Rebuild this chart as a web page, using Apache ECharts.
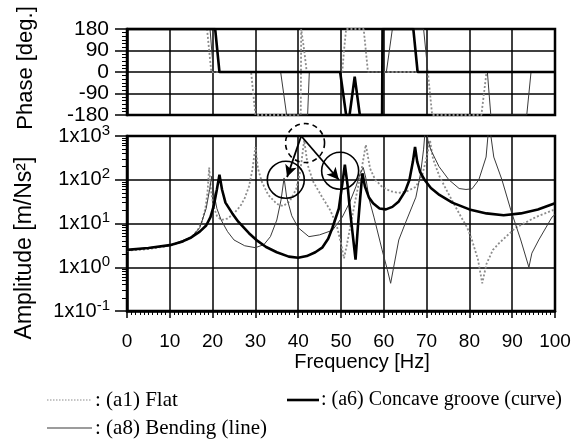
<!DOCTYPE html>
<html>
<head>
<meta charset="utf-8">
<title>Frequency response</title>
<style>
  html, body { margin: 0; padding: 0; background: #fff; }
  #chart1 { width: 580px; height: 441px; }
</style>
</head>
<body>
<div id="chart1"></div>
<script src="https://cdn.jsdelivr.net/npm/echarts@6/dist/echarts.min.js"></script>
<script>
// frequency axis
var freqTicks = [0, 10, 20, 30, 40, 50, 60, 70, 80, 90, 100];
var phaseTicks = [-180, -90, 0, 90, 180];
var ampRange = [0.1, 1000];

// phase [deg] : [Hz, deg]
var phaseA1 = [[0,180],[18.7,180],[19.2,90],[19.7,0],[29,0],[29.5,-90],[30,-180],[40.6,-180],[40.7,180],[41.4,90],[42,0],
  [50.3,0],[50.7,90],[51.2,180],[55.3,180],[55.8,90],[56.3,0],[70.3,0],[70.8,-90],[71.3,-180],[82.8,-180],[83.4,-90],[84,0],[100,0]];
var phaseA6 = [[0,180],[20.6,180],[21.1,90],[21.6,0],[49.8,0],[50.5,-90],[51.2,-180],[52,-180],[53.2,-20],[54.4,-180],
  [59.6,-180],[59.7,180],[66.9,180],[67.4,90],[67.9,0],[100,0]];
var phaseA8 = [[0,180],[19.4,180],[19.8,90],[20.2,0],[35.9,0],[36.6,-90],[37.3,-180],[42.2,-180],[42.6,0],[60.6,0],[61.3,90],[62,180],
  [69.3,180],[69.8,90],[70.3,0],[84.2,0],[84.6,-90],[85,-180],[93.4,-180],[93.9,-90],[94.4,0],[100,0]];

// amplitude [m/Ns2] : [Hz, value]
var ampA1 = [[0,2.4],[5,2.6],[10,3.1],[13,3.8],[15,4.8],[16.5,7],[17.5,11],[18.3,22],[18.8,50],[19.2,190],[19.6,60],[20.2,25],
  [21,15],[22,12],[23.5,13],[25,17],[26.5,25],[27.5,38],[28.5,70],[29.3,170],[30,560],[30.6,180],[31.5,90],[33,45],[35,28],
  [36.5,25],[38,32],[39.5,60],[40.5,160],[41.4,800],[42.2,220],[43.5,90],[45.6,40],[47.5,20],[49,9],[50,3.5],[50.7,1.6],
  [51.3,3],[52.3,10],[53.5,40],[54.7,150],[55.8,630],[56.8,180],[58,100],[59.6,69],[61.5,55],[63.5,50],[65.5,55],[67.5,69],
  [69,130],[70.1,350],[70.8,800],[71.5,300],[73,120],[75,50],[77.6,17],[79.5,8],[80.6,4.2],[82,1.5],[83,0.43],[84,1.2],
  [85.5,2.5],[87,3.6],[90.8,8],[95.5,14],[100,21]];
var ampA6 = [[0,2.5],[5,2.75],[10,3.2],[13,3.9],[15,4.8],[17,6.5],[18.5,9],[19.5,14],[20.3,26],[21,60],[21.6,130],[22.2,60],
  [23,30],[24.6,17],[26,11],[28.5,6],[30.5,4],[32.5,2.9],[35,2.2],[37.8,1.75],[40,1.65],[42,1.8],[44,2.2],[45.6,2.8],[47,4.5],
  [48,8],[49.5,22],[50.3,80],[50.9,220],[51.5,80],[52,25],[52.7,6],[53.4,1.5],[54,10],[54.5,40],[55,140],[55.6,70],[56.5,40],
  [57.5,29],[59,22],[60.5,21],[62,24],[63.5,32],[65,55],[66,100],[66.8,260],[67.3,560],[67.8,260],[68.5,150],[69.5,100],
  [71,65],[73,45],[76,30],[80,21],[84,17],[88,15.5],[92,17],[96,21],[100,29]];
var ampA8 = [[0,2.5],[10,3.15],[15,4.9],[17,8],[18.5,22],[19.3,60],[19.8,120],[20.3,50],[21,22],[22,12],[23.5,6.5],[25,4.2],
  [27.5,3.1],[30,2.8],[32,3.3],[33.5,5],[35,12],[36,35],[36.7,110],[37.3,40],[38.5,15],[40,8],[42.5,5],[45,5.5],[48,7],
  [50.3,14],[52,30],[53.5,70],[54.5,140],[55.2,190],[55.8,110],[56.6,35],[57.7,14],[59.6,2.5],[60.8,0.9],[61.6,0.43],
  [62.3,1.0],[63.5,4.2],[65,10],[67.5,40],[68.6,140],[69.3,500],[69.8,2000],[70.3,800],[71,480],[72.9,200],[75.2,100],
  [77.6,63],[79.2,60],[80.6,62],[82.2,100],[83.9,330],[84.6,2000],[85.7,330],[87.6,100],[89.7,20],[92,4.2],[93.9,1.0],
  [94.6,2.1],[96.2,4.2],[99.3,14],[100,16]];

// circles and arrows marking the shifted modes
var circleSolid = [[37.1, 100], [49.8, 160]];
var circleDashed = [[41.6, 690]];
var arrowFrom = [40.7, 1000];
var arrowTo = [[37.4, 115], [49.5, 100]];

var names = ['(a1) Flat', '(a6) Concave groove (curve)', '(a8) Bending (line)'];

var black = '#000';
var sans = 'Liberation Sans, Arial, sans-serif';
var serif = 'Liberation Serif, Times New Roman, serif';

var styA1 = { color: '#8c8c8c', width: 1.8, type: [2, 2] };
var styA6 = { color: '#000', width: 2.6 };
var styA8 = { color: '#3a3a3a', width: 1 };

var myChart = echarts.init(document.getElementById('chart1'));

var splitSty = { show: true, lineStyle: { color: black, width: 1.5 } };

var marks = [];
circleSolid.forEach(function (c) {
  marks.push({ coord: c, symbol: 'circle', symbolSize: 37,
    itemStyle: { color: 'rgba(0,0,0,0)', borderColor: black, borderWidth: 1.6 } });
});
circleDashed.forEach(function (c) {
  marks.push({ coord: c, symbol: 'circle', symbolSize: 39,
    itemStyle: { color: 'rgba(0,0,0,0)', borderColor: black, borderWidth: 1.6, borderType: [5, 4] } });
});
var arrows = arrowTo.map(function (t) {
  return [{ coord: arrowFrom }, { coord: t }];
});

var option = {
  animation: false,
  backgroundColor: '#fff',
  grid: [
    { left: 127, top: 29, width: 428, height: 86, show: true, borderColor: black, borderWidth: 2.5, backgroundColor: 'transparent' },
    { left: 127, top: 136, width: 428, height: 175, show: true, borderColor: black, borderWidth: 2.5, backgroundColor: 'transparent' }
  ],
  xAxis: [
    { type: 'value', gridIndex: 0, min: freqTicks[0], max: freqTicks[freqTicks.length - 1], interval: 10,
      axisLine: { show: false }, axisTick: { show: false }, axisLabel: { show: false }, splitLine: splitSty },
    { type: 'value', gridIndex: 1, min: freqTicks[0], max: freqTicks[freqTicks.length - 1], interval: 10,
      axisLine: { show: true, lineStyle: { color: black, width: 2.5 } },
      axisTick: { show: true, length: 7, lineStyle: { color: black, width: 1.5 } },
      minorTick: { show: true, splitNumber: 10, length: 4, lineStyle: { color: black, width: 1 } },
      axisLabel: { color: black, fontFamily: sans, fontSize: 19, margin: 21 },
      splitLine: splitSty }
  ],
  yAxis: [
    { type: 'value', gridIndex: 0, min: phaseTicks[0], max: phaseTicks[phaseTicks.length - 1], interval: 90,
      axisLine: { show: true, lineStyle: { color: black, width: 2.5 } },
      axisTick: { show: true, length: 12, lineStyle: { color: black, width: 1.5 } },
      minorTick: { show: true, splitNumber: 6, length: 5, lineStyle: { color: black, width: 1 } },
      axisLabel: { color: black, fontFamily: sans, fontSize: 21, margin: 18 },
      splitLine: splitSty },
    { type: 'log', logBase: 10, gridIndex: 1, min: ampRange[0], max: ampRange[1],
      axisLine: { show: true, lineStyle: { color: black, width: 2.5 } },
      axisTick: { show: true, length: 12, lineStyle: { color: black, width: 1.5 } },
      minorTick: { show: true, splitNumber: 9, length: 5, lineStyle: { color: black, width: 1 } },
      axisLabel: {
        color: black, fontFamily: sans, fontSize: 20, margin: 17, lineHeight: 26,
        formatter: function (v) { return '1x10{sup|' + Math.round(Math.log10(v)) + '}'; },
        rich: { sup: { fontFamily: sans, fontSize: 15, color: black, verticalAlign: 'top', lineHeight: 15 } }
      },
      splitLine: splitSty }
  ],
  series: [
    { name: names[0], type: 'line', xAxisIndex: 0, yAxisIndex: 0, data: phaseA1, symbol: 'none', lineStyle: styA1 },
    { name: names[2], type: 'line', xAxisIndex: 0, yAxisIndex: 0, data: phaseA8, symbol: 'none', lineStyle: styA8 },
    { name: names[1], type: 'line', xAxisIndex: 0, yAxisIndex: 0, data: phaseA6, symbol: 'none', lineStyle: styA6 },
    { name: names[0], type: 'line', xAxisIndex: 1, yAxisIndex: 1, data: ampA1, symbol: 'none', lineStyle: styA1 },
    { name: names[2], type: 'line', xAxisIndex: 1, yAxisIndex: 1, data: ampA8, symbol: 'none', lineStyle: styA8 },
    { name: names[1], type: 'line', xAxisIndex: 1, yAxisIndex: 1, data: ampA6, symbol: 'none', lineStyle: styA6,
      markPoint: { silent: true, label: { show: false }, data: marks },
      markLine: { silent: true, symbol: ['none', 'arrow'], symbolSize: [9, 12], label: { show: false },
        lineStyle: { color: black, width: 1.8, type: 'solid' }, data: arrows } }
  ],
  graphic: [
    { type: 'text', x: 26, y: 68, rotation: Math.PI / 2,
      style: { text: 'Phase [deg.]', font: '22px ' + sans, fill: black, align: 'center', verticalAlign: 'middle' } },
    { type: 'text', x: 25, y: 248, rotation: Math.PI / 2,
      style: { text: 'Amplitude [m/Ns²]', font: '23px ' + sans, fill: black, align: 'center', verticalAlign: 'middle' } },
    { type: 'text', x: 362, y: 362,
      style: { text: 'Frequency [Hz]', font: '20px ' + sans, fill: black, align: 'center', verticalAlign: 'middle' } },
    { type: 'line', shape: { x1: 47, y1: 400, x2: 92, y2: 400 }, style: { stroke: '#8c8c8c', lineWidth: 1.2, lineDash: [1.5, 1.5] } },
    { type: 'text', x: 95, y: 400, style: { text: ': ' + names[0], font: '21px ' + serif, fill: black, verticalAlign: 'middle' } },
    { type: 'line', shape: { x1: 287, y1: 400, x2: 319, y2: 400 }, style: { stroke: black, lineWidth: 2.6 } },
    { type: 'text', x: 321, y: 400, style: { text: ': ' + names[1], font: '20px ' + serif, fill: black, verticalAlign: 'middle' } },
    { type: 'line', shape: { x1: 47, y1: 428, x2: 92, y2: 428 }, style: { stroke: '#3a3a3a', lineWidth: 1.2 } },
    { type: 'text', x: 95, y: 428, style: { text: ': ' + names[2], font: '21px ' + serif, fill: black, verticalAlign: 'middle' } }
  ]
};

myChart.setOption(option);
</script>
</body>
</html>
